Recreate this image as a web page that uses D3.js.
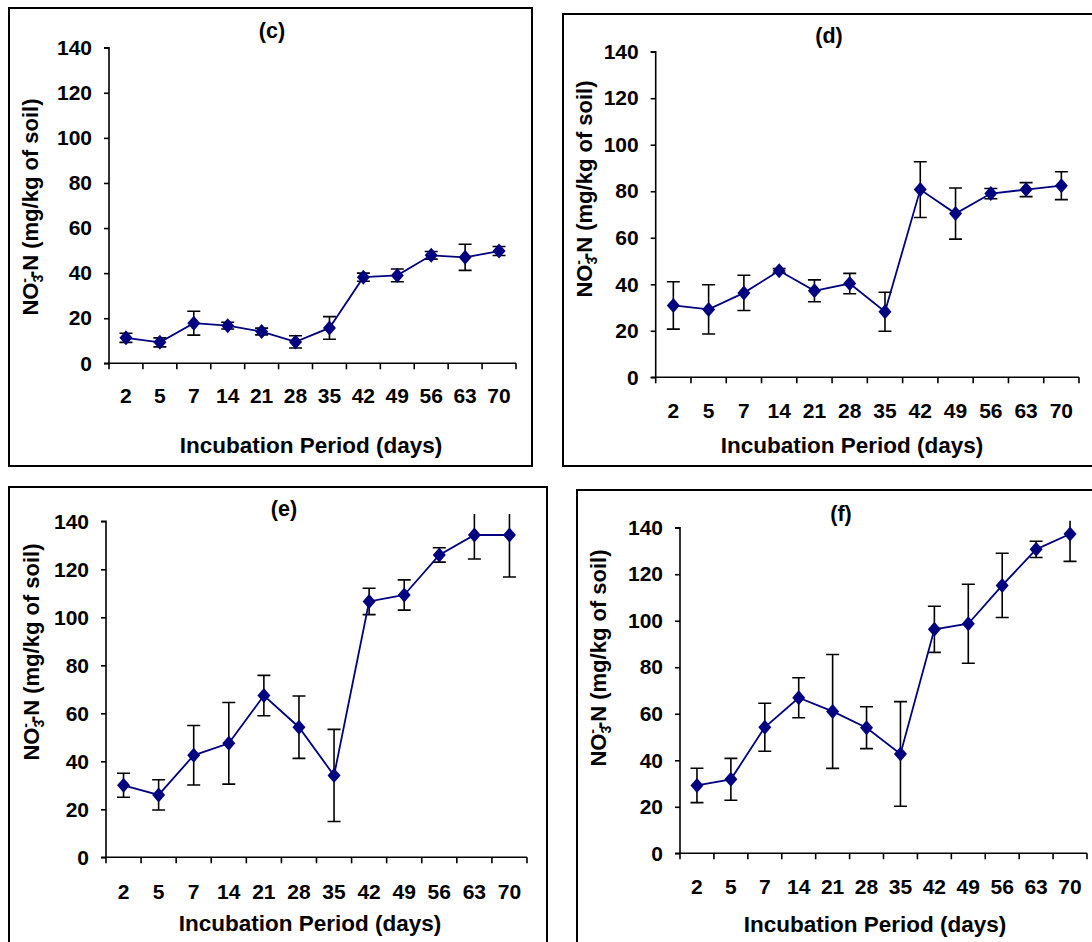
<!DOCTYPE html>
<html>
<head>
<meta charset="utf-8">
<script src="https://cdn.jsdelivr.net/npm/d3@7"></script>
<style>
  html, body { margin: 0; padding: 0; background: #fff; }
  svg { display: block; }
  text { font-family: "Liberation Sans", Arial, sans-serif; font-weight: bold; fill: #000; }
</style>
</head>
<body>
<svg id="chart" width="1092" height="942"></svg>
<script>
// ---- data ----
const days = ["2", "5", "7", "14", "21", "28", "35", "42", "49", "56", "63", "70"];
const yTicks = [0, 20, 40, 60, 80, 100, 120, 140];
const panelLabels = ["(c)", "(d)", "(e)", "(f)"];

const meanC = [11.3, 9.3, 17.8, 16.7, 14.1, 9.5, 15.7, 38.2, 39.0, 47.9, 47.0, 49.8];
const errC  = [2.0, 2.0, 5.3, 1.5, 1.5, 2.7, 5.0, 1.8, 2.8, 1.7, 5.8, 2.0];

const meanD = [30.9, 29.2, 36.3, 45.8, 37.2, 40.3, 28.2, 80.7, 70.4, 79.0, 80.7, 82.4];
const errD  = [10.2, 10.6, 7.6, 1.0, 4.7, 4.4, 8.4, 12.0, 11.0, 2.2, 3.0, 6.0];

const meanE = [30.0, 26.0, 42.5, 47.5, 67.4, 54.2, 34.1, 106.6, 109.3, 126.0, 134.3, 134.3];
const errE  = [5.0, 6.3, 12.4, 17.0, 8.4, 13.0, 19.2, 5.5, 6.3, 3.0, 10.0, 17.5];

const meanF = [29.2, 31.8, 54.2, 66.9, 61.0, 54.0, 42.7, 96.3, 98.7, 115.2, 130.7, 137.3];
const errF  = [7.4, 9.0, 10.3, 8.6, 24.5, 9.0, 22.5, 9.9, 17.0, 13.8, 3.5, 11.8];

const seriesMeans = [meanC, meanD, meanE, meanF];
const seriesErrs  = [errC, errD, errE, errF];

// ---- layout (positions only) ----
const layouts = [
  { box: [9, 8, 532, 466],   ax: [109, 516, 47.7, 363.3], title: [272, 30],  xlabY: 395, xTitle: [311, 445], yTitle: [30, 207] },
  { box: [563, 14, 1096, 466], ax: [655.7, 1079, 51.7, 377.3], title: [829, 35], xlabY: 410, xTitle: [852, 445], yTitle: [584, 189] },
  { box: [9, 487, 547, 950], ax: [106, 527, 521.3, 857.3], title: [284, 508], xlabY: 891, xTitle: [310, 923], yTitle: [31, 652] },
  { box: [577, 490, 1100, 950], ax: [680, 1087, 527.7, 853.3], title: [841, 513], xlabY: 886, xTitle: [875, 924], yTitle: [598, 658] }
];

const svg = d3.select("#chart");
const navy = "#000080";
const FONT = "'Liberation Sans', Arial, sans-serif";

layouts.forEach((L, i) => {
  const g = svg.append("g");
  const means = seriesMeans[i], errs = seriesErrs[i];

  // frame
  g.append("rect")
    .attr("x", L.box[0]).attr("y", L.box[1])
    .attr("width", L.box[2] - L.box[0]).attr("height", L.box[3] - L.box[1])
    .attr("fill", "none").attr("stroke", "#000").attr("stroke-width", 2);

  const x = d3.scaleBand().domain(days).range([L.ax[0], L.ax[1]]).padding(0);
  const y = d3.scaleLinear().domain([0, 140]).range([L.ax[3], L.ax[2]]);

  // y axis
  const yAxis = d3.axisLeft(y).tickValues(yTicks).tickSize(5).tickPadding(12).tickFormat(d3.format("d"));
  const yg = g.append("g").attr("transform", `translate(${L.ax[0]},0)`).call(yAxis);
  yg.select(".domain").attr("stroke", "#000").attr("stroke-width", 1.6).attr("d", `M-5,${y(140)}H0V${y(0)}`);
  yg.selectAll(".tick line").attr("stroke", "#000").attr("stroke-width", 1.6);
  yg.selectAll(".tick text").style("font-size", "21px").style("font-family", FONT).style("font-weight", "bold").attr("fill", "#000");

  // x axis
  const xg = g.append("g").attr("transform", `translate(0,${L.ax[3]})`);
  xg.append("line").attr("x1", L.ax[0] - 5).attr("x2", L.ax[1]).attr("y1", 0).attr("y2", 0)
    .attr("stroke", "#000").attr("stroke-width", 1.6);
  const boundaries = days.map(d => x(d)).concat([x(days[days.length - 1]) + x.bandwidth()]);
  xg.selectAll("line.tk").data(boundaries).enter().append("line").attr("class", "tk")
    .attr("x1", d => d).attr("x2", d => d).attr("y1", 0).attr("y2", 6)
    .attr("stroke", "#000").attr("stroke-width", 1.6);
  g.selectAll("text.xl").data(days).enter().append("text").attr("class", "xl")
    .attr("x", d => x(d) + x.bandwidth() / 2).attr("y", L.xlabY).attr("dy", "0.36em")
    .attr("text-anchor", "middle").style("font-size", "21px").text(d => d);

  // titles
  g.append("text").attr("x", L.title[0]).attr("y", L.title[1]).attr("dy", "0.36em")
    .attr("text-anchor", "middle").style("font-size", "21.5px").text(panelLabels[i]);
  g.append("text").attr("x", L.xTitle[0]).attr("y", L.xTitle[1]).attr("dy", "0.36em")
    .attr("text-anchor", "middle").style("font-size", "22.5px").text("Incubation Period (days)");

  const yt = g.append("text")
    .attr("transform", `translate(${L.yTitle[0]},${L.yTitle[1]}) rotate(-90)`)
    .attr("dy", "0.36em").attr("text-anchor", "middle").style("font-size", "22px");
  yt.append("tspan").text("NO");
  yt.append("tspan").attr("dy", 5).style("font-size", "14px").text("3");
  yt.append("tspan").attr("dx", -8).attr("dy", -14).style("font-size", "14px").text("-");
  yt.append("tspan").attr("dy", 9).text("-N (mg/kg of soil)");

  // clip for data
  const clipId = "clip" + i;
  g.append("clipPath").attr("id", clipId).append("rect")
    .attr("x", L.ax[0]).attr("y", y(143)).attr("width", L.ax[1] - L.ax[0] + 10).attr("height", y(0) - y(143) + 30);
  const dg = g.append("g").attr("clip-path", `url(#${clipId})`);

  const cx = (d, j) => x(days[j]) + x.bandwidth() / 2;

  // error bars
  const eb = dg.selectAll("g.eb").data(means).enter().append("g").attr("class", "eb");
  eb.append("line").attr("x1", cx).attr("x2", cx)
    .attr("y1", (d, j) => y(d - errs[j])).attr("y2", (d, j) => y(d + errs[j]))
    .attr("stroke", "#000").attr("stroke-width", 1.6);
  eb.append("line").attr("x1", (d, j) => cx(d, j) - 6.5).attr("x2", (d, j) => cx(d, j) + 6.5)
    .attr("y1", (d, j) => y(d - errs[j])).attr("y2", (d, j) => y(d - errs[j]))
    .attr("stroke", "#000").attr("stroke-width", 1.6);
  eb.append("line").attr("x1", (d, j) => cx(d, j) - 6.5).attr("x2", (d, j) => cx(d, j) + 6.5)
    .attr("y1", (d, j) => y(d + errs[j])).attr("y2", (d, j) => y(d + errs[j]))
    .attr("stroke", "#000").attr("stroke-width", 1.6);

  // line
  const line = d3.line().x((d, j) => cx(d, j)).y(d => y(d));
  dg.append("path").datum(means).attr("d", line)
    .attr("fill", "none").attr("stroke", navy).attr("stroke-width", 1.8);

  // markers (diamonds)
  const diamondPath = "M0,-7.5L6.5,0L0,7.5L-6.5,0Z";
  dg.selectAll("path.mk").data(means).enter().append("path").attr("class", "mk")
    .attr("d", diamondPath)
    .attr("transform", (d, j) => `translate(${cx(d, j)},${y(d)})`)
    .attr("fill", navy);
});
</script>
</body>
</html>
